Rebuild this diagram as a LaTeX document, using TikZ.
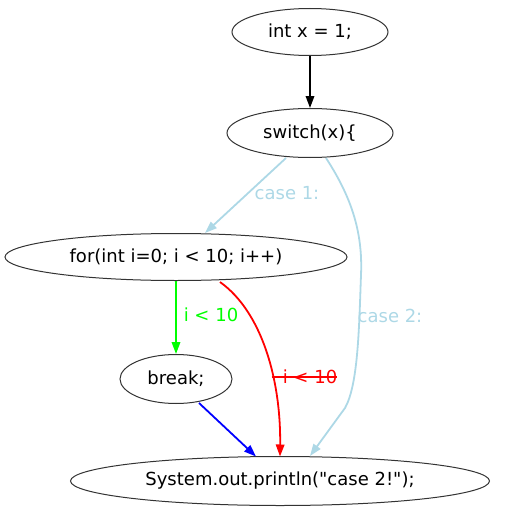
\documentclass[tikz,border=0pt]{standalone}
\usepackage{fontspec}
\setmainfont{DejaVu Sans}[Ligatures=TeXOff]
\usetikzlibrary{shapes.geometric,arrows.meta}
\definecolor{lblue}{RGB}{173,216,230}
\definecolor{lgreen}{RGB}{0,255,0}
\begin{document}
\begin{tikzpicture}[x=1pt,y=-1pt,
  stmt/.style={ellipse,draw=black!80,line width=1pt,inner sep=0pt,font=\fontsize{18}{20}\selectfont},
  edge/.style={line width=1.8pt,-{Triangle[length=12pt,width=8.5pt]}},
  elabel/.style={font=\fontsize{18}{20}\selectfont,inner sep=0pt}]
\useasboundingbox (0,0) rectangle (506,519);
\node[stmt,minimum width=156pt,minimum height=47pt] (init) at (310,32) {int x = 1;};
\node[stmt,minimum width=166pt,minimum height=49pt] (sw) at (310,133) {switch(x)\{};
\node[stmt,minimum width=342pt,minimum height=47pt] (loop) at (176,257) {for(int i=0; i < 10; i++)};
\node[stmt,minimum width=112pt,minimum height=49pt] (brk) at (176,379) {break;};
\node[stmt,minimum width=419pt,minimum height=49pt] (prn) at (280,481) {System.out.println("case 2!");};
\draw[edge,black] (init) -- (sw);
\draw[edge,lblue] ([xshift=-24pt]sw.south) -- ([xshift=29pt]loop.north);
\node[elabel,text=lblue] (c1) at (287,193) {case 1:};
\draw[edge,lblue] ([xshift=16pt]sw.south) .. controls (350,195) and (363,230) .. (361,275) .. controls (359,330) and (358,385) .. (345,408) -- ([xshift=30pt]prn.north);
\node[elabel,text=lblue] (c2) at (390,316) {case 2:};
\draw[edge,lgreen] (loop.south) -- (brk.north);
\node[elabel,text=lgreen] (g1) at (211,315) {i < 10};
\draw[edge,red] ([xshift=44pt,yshift=-1pt]loop.south) .. controls (262,312) and (281,380) .. (280,456.5);
\node[elabel,text=red] (r1) at (310,377) {i < 10};
\draw[red,line width=1.2pt] ([xshift=-11pt]r1.west) -- (r1.east);
\draw[edge,blue] (199,403) -- (256,456.5);
\end{tikzpicture}
\end{document}
